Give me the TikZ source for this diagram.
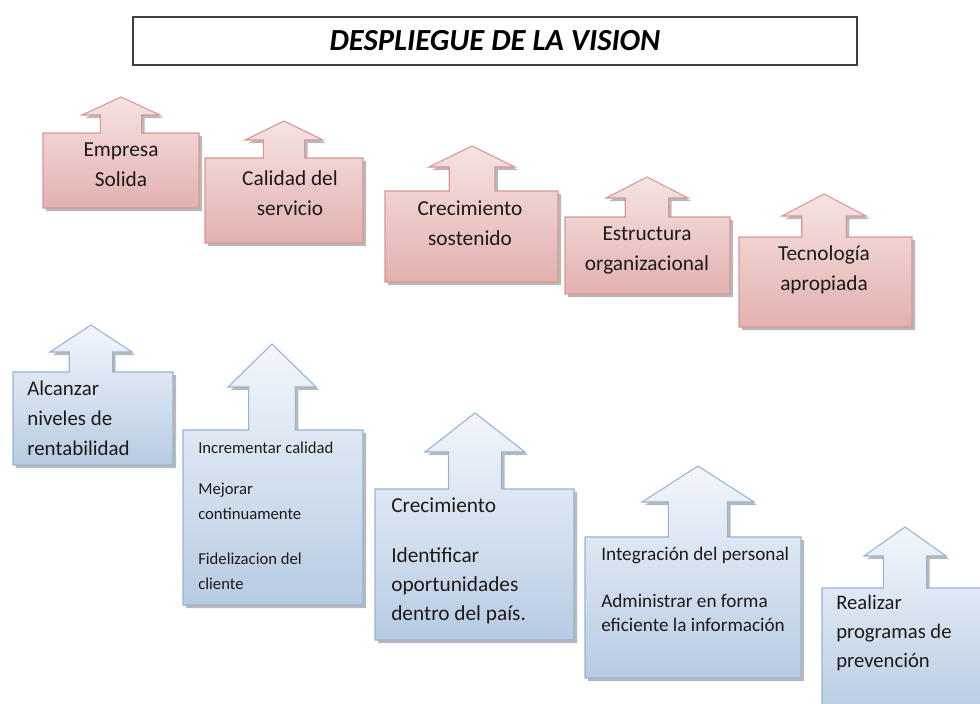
\documentclass[tikz,border=0pt]{standalone}
\usepackage{fontspec}
\setmainfont{Carlito}
\definecolor{redtop}{HTML}{F6E3E2}
\definecolor{redbot}{HTML}{E2B1B0}
\definecolor{redline}{HTML}{D99694}
\definecolor{bluetop}{HTML}{F2F6FB}
\definecolor{bluebot}{HTML}{B7CBE3}
\definecolor{blueline}{HTML}{95B3D7}
\definecolor{txt}{HTML}{1E1A18}
\newcommand{\upcallout}[9]{%
  \path[#1] (#2,#3) -- ({#6-0.53*#9},#3) -- ({#6-0.53*#9},#8) -- ({#6-#9},#8) -- (#6,#7) -- ({#6+#9},#8) -- ({#6+0.53*#9},#8) -- ({#6+0.53*#9},#3) -- (#4,#3) -- (#4,#5) -- (#2,#5) -- cycle;}
\tikzset{
  shadowfill/.style={fill=black!55, opacity=0.5, shift={(3,3)}},
  redshape/.style={draw=redline, line width=0.8pt, top color=redtop, bottom color=redbot},
  blueshape/.style={draw=blueline, line width=0.8pt, top color=bluetop, bottom color=bluebot},
  redtxt/.style={font=\fontsize{16}{22.5}\selectfont, align=center, text=txt, inner sep=0pt},
  bluetxt/.style={align=left, text=txt, inner sep=0pt, anchor=north west},
}
\begin{document}
\begin{tikzpicture}[x=0.75pt,y=-0.75pt]
\useasboundingbox (0,0) rectangle (980,703);
\clip (0,0) rectangle (980,703);
% title
\node[draw=black!75, line width=0.8pt, minimum width=724*0.75pt, minimum height=48*0.75pt, inner sep=0pt,
  font=\fontsize{23}{26}\selectfont\bfseries\itshape] (title) at (495,41) {DESPLIEGUE DE LA VISION};
% red callouts
\upcallout{shadowfill}{43}{133}{199}{208}{121}{97}{115}{39}
\upcallout{redshape}{43}{133}{199}{208}{121}{97}{115}{39}
\upcallout{shadowfill}{205}{158}{363}{243}{284}{121}{140}{39}
\upcallout{redshape}{205}{158}{363}{243}{284}{121}{140}{39}
\upcallout{shadowfill}{385}{191}{558}{282}{472}{146}{167}{43}
\upcallout{redshape}{385}{191}{558}{282}{472}{146}{167}{43}
\upcallout{shadowfill}{565}{217}{730}{294}{647}{177}{198}{41}
\upcallout{redshape}{565}{217}{730}{294}{647}{177}{198}{41}
\upcallout{shadowfill}{739}{237}{912}{327}{824}{194}{216}{42}
\upcallout{redshape}{739}{237}{912}{327}{824}{194}{216}{42}
% blue callouts
\upcallout{shadowfill}{13}{372}{173}{465}{91}{325}{352}{41}
\upcallout{blueshape}{13}{372}{173}{465}{91}{325}{352}{41}
\upcallout{shadowfill}{183}{430}{363}{605}{272}{344}{387}{44}
\upcallout{blueshape}{183}{430}{363}{605}{272}{344}{387}{44}
\upcallout{shadowfill}{375}{489}{574}{640}{475}{413}{452}{50}
\upcallout{blueshape}{375}{489}{574}{640}{475}{413}{452}{50}
\upcallout{shadowfill}{585}{537}{801}{678}{698}{466}{502}{56}
\upcallout{blueshape}{585}{537}{801}{678}{698}{466}{502}{56}
\upcallout{shadowfill}{822}{588}{995}{720}{905}{527}{556}{41}
\upcallout{blueshape}{822}{588}{995}{720}{905}{527}{556}{41}
% red texts
\node[redtxt] (r1) at (121,165) {Empresa\\Solida};
\node[redtxt] (r2) at (290,193) {Calidad del\\servicio};
\node[redtxt] (r3) at (470,223) {Crecimiento\\sostenido};
\node[redtxt] (r4) at (647,250) {Estructura\\organizacional};
\node[redtxt] (r5) at (824,270) {Tecnología\\apropiada};
% blue texts
\node[bluetxt, font=\fontsize{15.7}{22.5}\selectfont] (b1) at (27,381) {Alcanzar\\niveles de\\rentabilidad};
\node[bluetxt, font=\fontsize{12.5}{18.75}\selectfont] (b2) at (198,442) {Incrementar calidad\\[12pt]Mejorar\\continuamente\\[15pt]Fidelizacion del\\cliente};
\node[bluetxt, font=\fontsize{16}{21.75}\selectfont] (b3) at (391,497.5) {Crecimiento\\[16pt]Identificar\\oportunidades\\dentro del país.};
\node[bluetxt, font=\fontsize{14.4}{18}\selectfont] (b4) at (601,547) {Integración del personal\\[17pt]Administrar en forma\\eficiente la información};
\node[bluetxt, font=\fontsize{15.5}{21.75}\selectfont] (b5) at (836,594.5) {Realizar\\programas de\\prevención};
\end{tikzpicture}
\end{document}
